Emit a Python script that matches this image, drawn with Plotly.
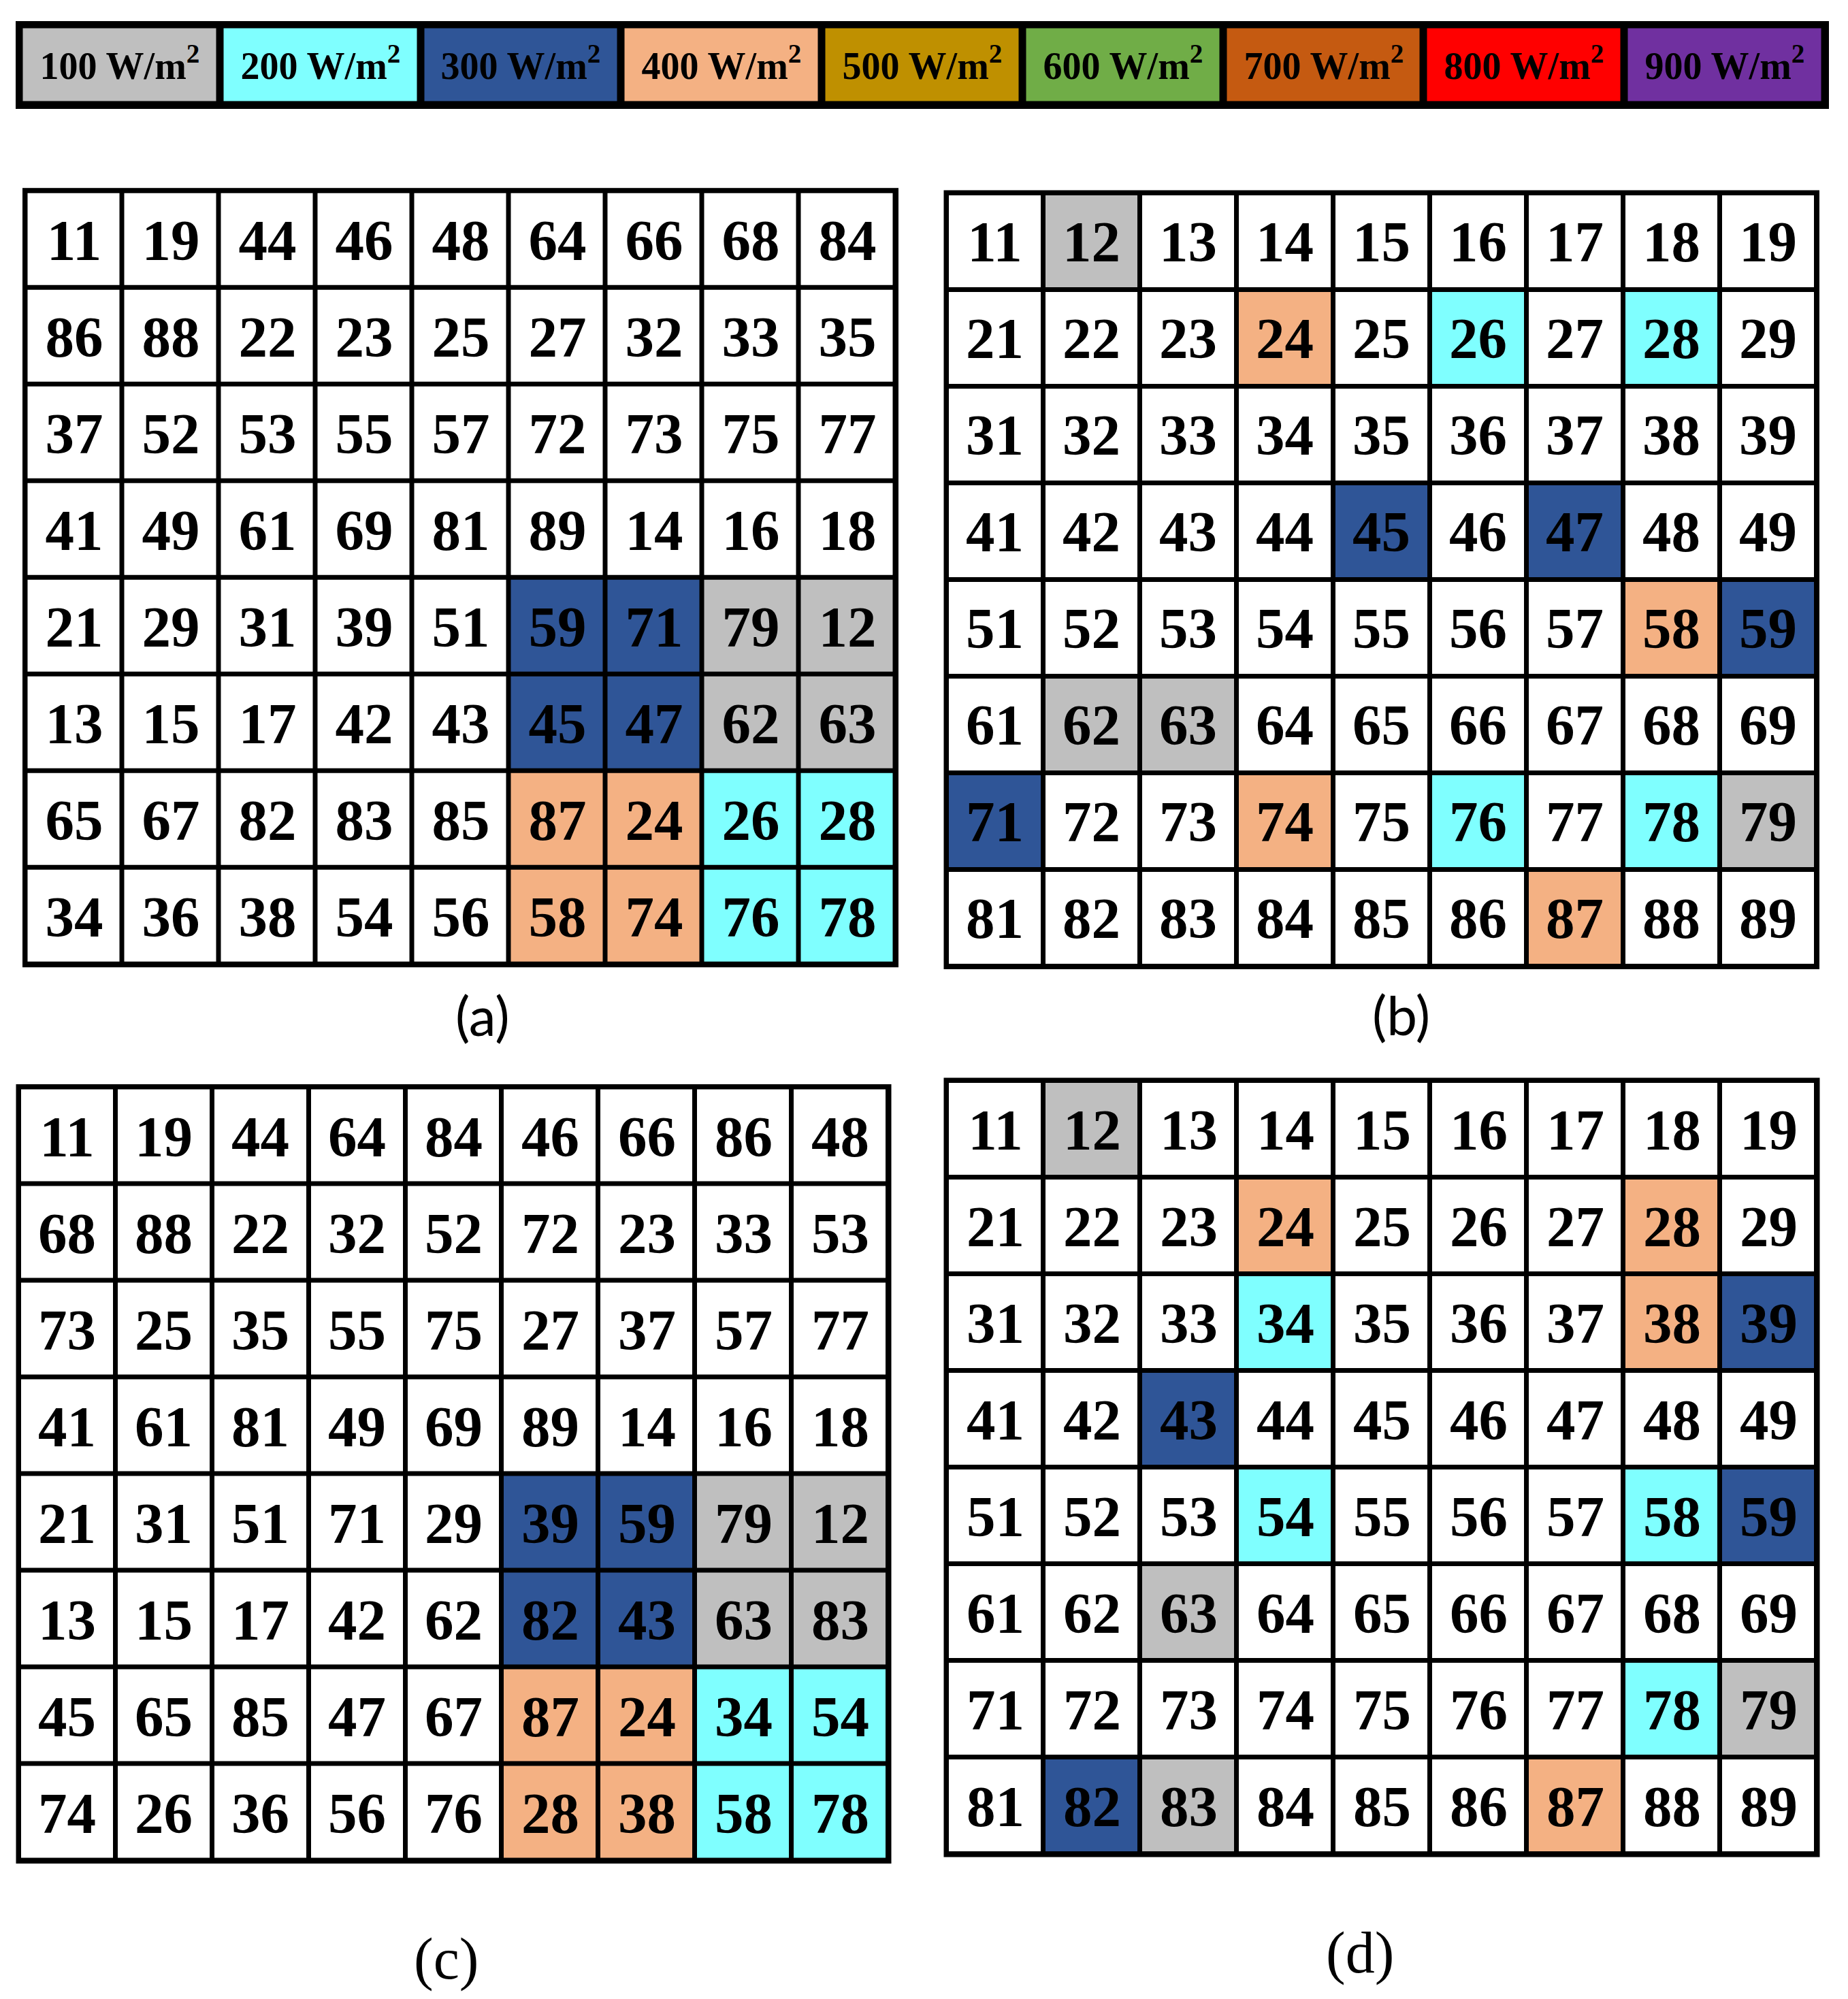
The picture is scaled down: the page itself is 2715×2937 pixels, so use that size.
import plotly.graph_objects as go

# page size and the 8px body margin of the html page
PAGE_W, PAGE_H = 2715, 2937
OFF = 8
W, H = PAGE_W - 2 * OFF, PAGE_H - 2 * OFF

# ---- data -------------------------------------------------------------
levels = [100, 200, 300, 400, 500, 600, 700, 800, 900]
level_colors = ["#BFBFBF", "#7FFFFF", "#2F5597", "#F4B183", "#BF9000",
                "#70AD47", "#C55A11", "#FF0000", "#7030A0"]
level_labels = [f"{v} W/m<sup>2</sup>" for v in levels]

panel_a_numbers = [
    [11, 19, 44, 46, 48, 64, 66, 68, 84],
    [86, 88, 22, 23, 25, 27, 32, 33, 35],
    [37, 52, 53, 55, 57, 72, 73, 75, 77],
    [41, 49, 61, 69, 81, 89, 14, 16, 18],
    [21, 29, 31, 39, 51, 59, 71, 79, 12],
    [13, 15, 17, 42, 43, 45, 47, 62, 63],
    [65, 67, 82, 83, 85, 87, 24, 26, 28],
    [34, 36, 38, 54, 56, 58, 74, 76, 78],
]
panel_a_power = [
    [0, 0, 0, 0, 0, 0, 0, 0, 0],
    [0, 0, 0, 0, 0, 0, 0, 0, 0],
    [0, 0, 0, 0, 0, 0, 0, 0, 0],
    [0, 0, 0, 0, 0, 0, 0, 0, 0],
    [0, 0, 0, 0, 0, 300, 300, 100, 100],
    [0, 0, 0, 0, 0, 300, 300, 100, 100],
    [0, 0, 0, 0, 0, 400, 400, 200, 200],
    [0, 0, 0, 0, 0, 400, 400, 200, 200],
]

panel_b_numbers = [
    [11, 12, 13, 14, 15, 16, 17, 18, 19],
    [21, 22, 23, 24, 25, 26, 27, 28, 29],
    [31, 32, 33, 34, 35, 36, 37, 38, 39],
    [41, 42, 43, 44, 45, 46, 47, 48, 49],
    [51, 52, 53, 54, 55, 56, 57, 58, 59],
    [61, 62, 63, 64, 65, 66, 67, 68, 69],
    [71, 72, 73, 74, 75, 76, 77, 78, 79],
    [81, 82, 83, 84, 85, 86, 87, 88, 89],
]
panel_b_power = [
    [0, 100, 0, 0, 0, 0, 0, 0, 0],
    [0, 0, 0, 400, 0, 200, 0, 200, 0],
    [0, 0, 0, 0, 0, 0, 0, 0, 0],
    [0, 0, 0, 0, 300, 0, 300, 0, 0],
    [0, 0, 0, 0, 0, 0, 0, 400, 300],
    [0, 100, 100, 0, 0, 0, 0, 0, 0],
    [300, 0, 0, 400, 0, 200, 0, 200, 100],
    [0, 0, 0, 0, 0, 0, 400, 0, 0],
]

panel_c_numbers = [
    [11, 19, 44, 64, 84, 46, 66, 86, 48],
    [68, 88, 22, 32, 52, 72, 23, 33, 53],
    [73, 25, 35, 55, 75, 27, 37, 57, 77],
    [41, 61, 81, 49, 69, 89, 14, 16, 18],
    [21, 31, 51, 71, 29, 39, 59, 79, 12],
    [13, 15, 17, 42, 62, 82, 43, 63, 83],
    [45, 65, 85, 47, 67, 87, 24, 34, 54],
    [74, 26, 36, 56, 76, 28, 38, 58, 78],
]
panel_c_power = [
    [0, 0, 0, 0, 0, 0, 0, 0, 0],
    [0, 0, 0, 0, 0, 0, 0, 0, 0],
    [0, 0, 0, 0, 0, 0, 0, 0, 0],
    [0, 0, 0, 0, 0, 0, 0, 0, 0],
    [0, 0, 0, 0, 0, 300, 300, 100, 100],
    [0, 0, 0, 0, 0, 300, 300, 100, 100],
    [0, 0, 0, 0, 0, 400, 400, 200, 200],
    [0, 0, 0, 0, 0, 400, 400, 200, 200],
]

panel_d_numbers = panel_b_numbers
panel_d_power = [
    [0, 100, 0, 0, 0, 0, 0, 0, 0],
    [0, 0, 0, 400, 0, 0, 0, 400, 0],
    [0, 0, 0, 200, 0, 0, 0, 400, 300],
    [0, 0, 300, 0, 0, 0, 0, 0, 0],
    [0, 0, 0, 200, 0, 0, 0, 200, 300],
    [0, 0, 100, 0, 0, 0, 0, 0, 0],
    [0, 0, 0, 0, 0, 0, 0, 200, 100],
    [0, 300, 100, 0, 0, 0, 400, 0, 0],
]

panel_labels = ["(a)", "(b)", "(c)", "(d)"]

# ---- styling ----------------------------------------------------------
# discrete colour scale: 0 -> white, 100..900 -> legend colours
all_colors = ["#FFFFFF"] + level_colors
colorscale = []
for k, c in enumerate(all_colors):
    colorscale.append([k / len(all_colors), c])
    colorscale.append([(k + 1) / len(all_colors), c])

# grid boundary boxes in page pixels (left, top, right, bottom)
panels = [
    dict(box=(37.5, 280.7, 1315.5, 1416.7), nums=panel_a_numbers, power=panel_a_power),
    dict(box=(1391, 284, 2668.5, 1419.5), nums=panel_b_numbers, power=panel_b_power),
    dict(box=(28, 1597.5, 1305, 2733.5), nums=panel_c_numbers, power=panel_c_power),
    dict(box=(1391, 1588, 2669, 2724), nums=panel_d_numbers, power=panel_d_power),
]
legend_box = (28.5, 36.5, 2681.5, 154.5)


def px_x(v):
    return (v - OFF) / W


def px_y(v):
    return 1 - (v - OFF) / H


fig = go.Figure()
layout_axes = {}


def add_grid(idx, box, z, text, gap, ext, font_size):
    left, top, right, bottom = box
    nrows, ncols = len(z), len(z[0])
    unit_x = (right - left) / ncols
    unit_y = (bottom - top) / nrows
    xa = "x" if idx == 1 else f"x{idx}"
    ya = "y" if idx == 1 else f"y{idx}"
    fig.add_trace(go.Heatmap(
        z=z,
        text=text,
        texttemplate="%{text}",
        textfont=dict(family="Liberation Serif", size=font_size, color="black", weight="bold"),
        colorscale=colorscale,
        zmin=-50, zmax=950,
        showscale=False,
        xgap=gap, ygap=gap,
        hoverinfo="skip",
        xaxis=xa, yaxis=ya,
    ))
    suffix = "" if idx == 1 else idx
    layout_axes[f"xaxis{suffix}"] = dict(
        domain=[px_x(left - ext), px_x(right + ext)],
        range=[-0.5 - ext / unit_x, ncols - 0.5 + ext / unit_x],
        visible=False, fixedrange=True,
    )
    layout_axes[f"yaxis{suffix}"] = dict(
        domain=[px_y(bottom + ext), px_y(top - ext)],
        range=[nrows - 0.5 + ext / unit_y, -0.5 - ext / unit_y],
        visible=False, fixedrange=True,
    )


# legend strip
add_grid(1, legend_box, [levels], [level_labels], 11, 5.5, 56)

# the four grids
for i, p in enumerate(panels):
    add_grid(i + 2, p["box"], p["power"],
             [[str(v) for v in row] for row in p["nums"]], 7, 4.5, 85)

# panel captions
caption_pos = [(709, 1491, "Lato", 80), (2058, 1490, "Lato", 80),
               (655, 2878, "Liberation Serif", 86), (1998, 2869, "Liberation Serif", 86)]
for lab, (cx, cy, fam, fs) in zip(panel_labels, caption_pos):
    fig.add_annotation(
        text=lab, xref="paper", yref="paper",
        x=px_x(cx), y=px_y(cy), xanchor="center", yanchor="middle",
        showarrow=False, font=dict(family=fam, size=fs, color="black"),
    )

fig.update_layout(
    width=W, height=H,
    margin=dict(l=0, r=0, t=0, b=0),
    paper_bgcolor="white",
    plot_bgcolor="black",
    showlegend=False,
    **layout_axes,
)

fig.write_html("out.html")
